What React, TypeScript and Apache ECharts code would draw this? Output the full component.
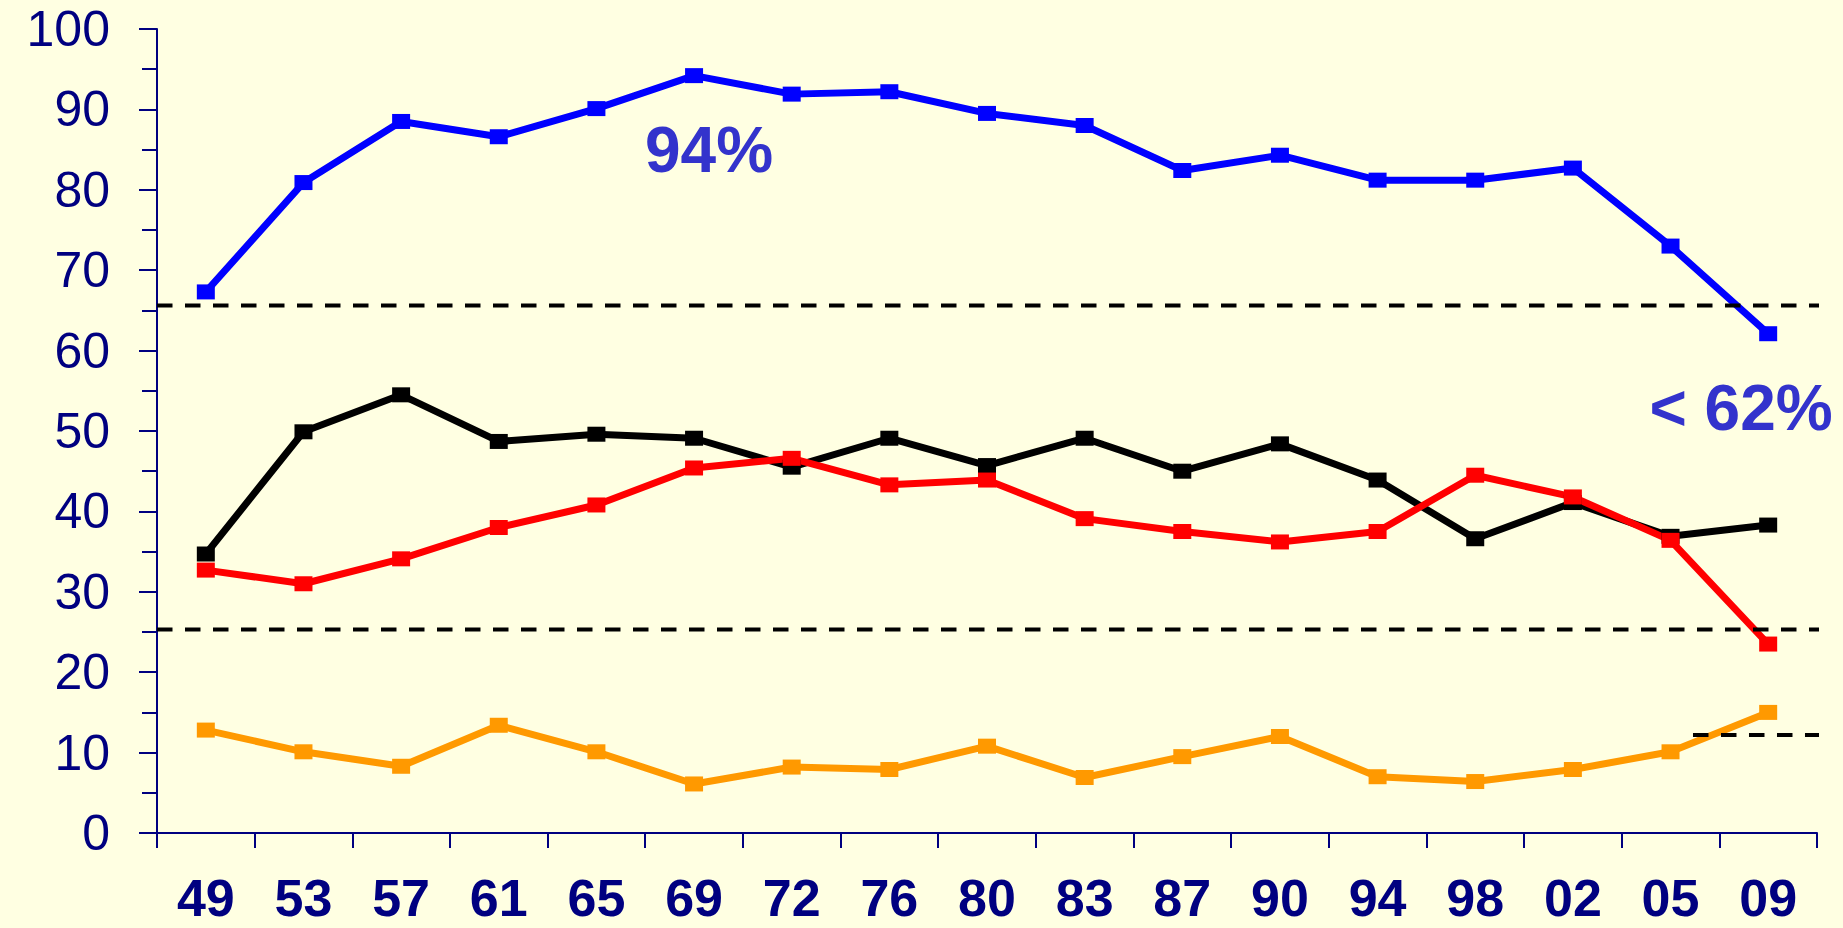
import React, { useEffect, useRef } from "react";
import * as echarts from "echarts";

const years = ["49", "53", "57", "61", "65", "69", "72", "76", "80", "83", "87", "90", "94", "98", "02", "05", "09"];
const blueValues = [67.3, 80.9, 88.5, 86.6, 90.1, 94.2, 91.9, 92.2, 89.5, 88.0, 82.4, 84.3, 81.2, 81.2, 82.7, 73.0, 62.1];
const blackValues = [34.7, 49.9, 54.5, 48.7, 49.6, 49.1, 45.5, 49.1, 45.7, 49.1, 45.0, 48.4, 43.9, 36.6, 41.1, 36.9, 38.3];
const redValues = [32.7, 31.0, 34.1, 38.0, 40.8, 45.4, 46.6, 43.3, 43.9, 39.1, 37.5, 36.2, 37.5, 44.5, 41.8, 36.4, 23.5];
const orangeValues = [12.8, 10.1, 8.3, 13.4, 10.1, 6.1, 8.2, 7.9, 10.8, 6.9, 9.5, 12.0, 7.0, 6.4, 7.9, 10.1, 15.0];

const upperThreshold = 65.6;
const lowerThreshold = 25.3;
const smallThreshold = 12.2;
const fullSpan = [0, 17.09];
const smallSpan = [15.73, 17.04];

const annotationTop = "94%";
const annotationRight = "< 62%";

const NAVY = "#000080";
const FONT = "Liberation Sans, Arial, sans-serif";

export default function App() {
  const ref = useRef<HTMLDivElement>(null);
  useEffect(() => {
    if (!ref.current) return;
    const chart = echarts.init(ref.current, undefined, { renderer: "svg" });
    const lineSeries = (name: string, data: number[], color: string) => ({
      name,
      type: "line",
      xAxisIndex: 0,
      yAxisIndex: 0,
      data,
      symbol: "rect",
      symbolSize: [18, 15],
      lineStyle: { color, width: 7 },
      itemStyle: { color },
      z: 3,
    });
    const dashed = (y: number, span: number[]) => ({
      type: "line",
      xAxisIndex: 1,
      yAxisIndex: 0,
      data: [
        [span[0], y],
        [span[1], y],
      ],
      symbol: "none",
      clip: false,
      lineStyle: { color: "#000000", width: 4, type: [15.5, 12.5] },
      z: 4,
      silent: true,
    });
    chart.setOption({
      animation: false,
      backgroundColor: "#FFFFE2",
      grid: { left: 157, right: 26, top: 29, bottom: 95, containLabel: false },
      xAxis: [
        {
          type: "category",
          data: years,
          boundaryGap: true,
          axisLine: { lineStyle: { color: NAVY, width: 2 } },
          axisTick: { show: true, length: 15, lineStyle: { color: NAVY, width: 2 } },
          axisLabel: {
            color: NAVY,
            fontSize: 52,
            lineHeight: 40,
            fontWeight: "bold",
            fontFamily: FONT,
            margin: 45,
            interval: 0,
          },
          splitLine: { show: false },
        },
        {
          type: "value",
          min: 0,
          max: 17,
          show: false,
          splitLine: { show: false },
        },
      ],
      yAxis: {
        type: "value",
        min: 0,
        max: 100,
        interval: 10,
        axisLine: { show: true, lineStyle: { color: NAVY, width: 2 } },
        axisTick: { show: true, length: 18, lineStyle: { color: NAVY, width: 2 } },
        minorTick: { show: true, splitNumber: 2, length: 15, lineStyle: { color: NAVY, width: 2 } },
        axisLabel: {
          color: NAVY,
          fontSize: 50,
          lineHeight: 40,
          fontFamily: FONT,
          margin: 47,
        },
        splitLine: { show: false },
      },
      series: [
        lineSeries("blue", blueValues, "#0000FF"),
        lineSeries("black", blackValues, "#000000"),
        lineSeries("red", redValues, "#FF0000"),
        lineSeries("orange", orangeValues, "#FF9900"),
        dashed(upperThreshold, fullSpan),
        dashed(lowerThreshold, fullSpan),
        dashed(smallThreshold, smallSpan),
      ],
      graphic: [
        {
          type: "text",
          x: 709,
          y: 150,
          style: {
            text: annotationTop,
            fill: "#3333CC",
            fontSize: 64,
            fontWeight: "bold",
            fontFamily: FONT,
            align: "center",
            verticalAlign: "middle",
          },
        },
        {
          type: "text",
          x: 1741,
          y: 408,
          style: {
            text: annotationRight,
            fill: "#3333CC",
            fontSize: 64,
            fontWeight: "bold",
            fontFamily: FONT,
            align: "center",
            verticalAlign: "middle",
          },
        },
      ],
    });
    return () => chart.dispose();
  }, []);
  return (
    <div
      ref={ref}
      style={{ position: "absolute", left: 0, top: 0, width: 1843, height: 928 }}
    />
  );
}
